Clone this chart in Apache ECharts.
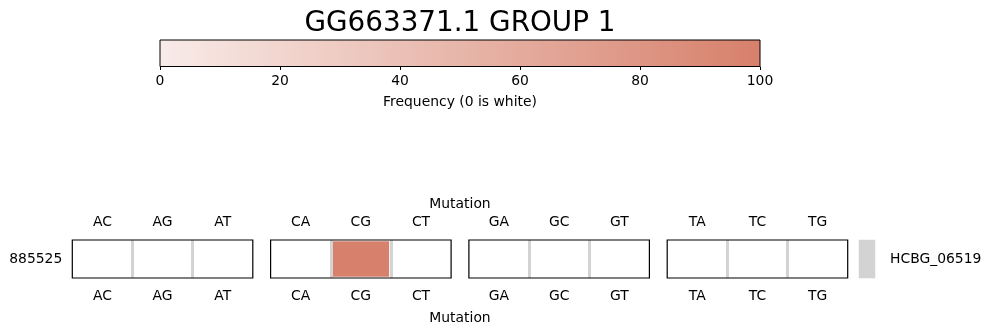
<!DOCTYPE html>
<html>
<head>
<meta charset="utf-8">
<script src="https://cdn.jsdelivr.net/npm/echarts@6/dist/echarts.min.js"></script>
<style>
html, body { margin: 0; padding: 0; background: #fff; }
#chart { width: 990px; height: 335px; }
</style>
</head>
<body>
<div id="chart"></div>
<script>
// ---- data ----
const chartTitle = 'GG663371.1 GROUP 1';
const mutationGroups = [
  ['AC', 'AG', 'AT'],
  ['CA', 'CG', 'CT'],
  ['GA', 'GC', 'GT'],
  ['TA', 'TC', 'TG']
];
const positions = ['885525'];
// frequency per group, per mutation (row 885525)
const frequencies = [
  [0, 0, 0],
  [0, 100, 0],
  [0, 0, 0],
  [0, 0, 0]
];
const geneLabels = ['HCBG_06519'];
const colorbarMin = 0;
const colorbarMax = 100;
const colorbarInterval = 20;
const colorbarLabel = 'Frequency (0 is white)';
const axisName = 'Mutation';

// ---- styles ----
const FONT = 'DejaVu Sans';
const LOW = '#f8ebe8';
const HIGH = '#d7806b';
const GREY = '#d3d3d3';
const FS = 13.9;

const grids = [];
const xAxes = [];
const yAxes = [];
const series = [];

// colorbar grid
grids.push({
  left: 160, top: 40, width: 600, height: 26.5, show: true, z: 6,
  backgroundColor: { type: 'linear', x: 0, y: 0, x2: 1, y2: 0,
    colorStops: [{ offset: 0, color: LOW }, { offset: 1, color: HIGH }] },
  borderColor: '#000', borderWidth: 1
});
xAxes.push({
  type: 'value', gridIndex: 0, min: colorbarMin, max: colorbarMax, interval: colorbarInterval,
  position: 'bottom',
  axisLine: { show: false },
  axisTick: { show: true, length: 3.5, lineStyle: { color: '#000', width: 1 } },
  axisLabel: { margin: 7.5, color: '#000', fontSize: FS, fontFamily: FONT },
  splitLine: { show: false },
  name: colorbarLabel, nameLocation: 'middle', nameGap: 28.5,
  nameTextStyle: { color: '#000', fontSize: FS, fontFamily: FONT }
});
yAxes.push({ type: 'value', gridIndex: 0, show: false, min: 0, max: 1 });

const panelLeft0 = 72.3, panelStep = 198.3, panelW = 180.5, panelTop = 240, panelH = 38;
const panelSeries = [];

mutationGroups.forEach(function (group, k) {
  const gi = grids.length;
  grids.push({
    left: panelLeft0 + k * panelStep, top: panelTop, width: panelW, height: panelH,
    show: true, z: 6, backgroundColor: 'transparent', borderColor: '#000', borderWidth: 1.2
  });
  const xTop = xAxes.length;
  xAxes.push({
    type: 'category', gridIndex: gi, data: group, position: 'top', z: 5,
    axisLine: { show: false }, axisTick: { show: false },
    axisLabel: { margin: 10.5, color: '#000', fontSize: FS, fontFamily: FONT },
    splitLine: { show: true, showMinLine: false, showMaxLine: false,
      lineStyle: { color: GREY, width: 3 } }
  });
  xAxes.push({
    type: 'category', gridIndex: gi, data: group, position: 'bottom',
    axisLine: { show: false }, axisTick: { show: false },
    axisLabel: { margin: 11.5, color: '#000', fontSize: FS, fontFamily: FONT },
    splitLine: { show: false }
  });
  const yi = yAxes.length;
  yAxes.push({
    type: 'category', gridIndex: gi, data: positions,
    axisLine: { show: false }, axisTick: { show: false },
    axisLabel: { show: k === 0, margin: 10, color: '#000', fontSize: FS, fontFamily: FONT },
    splitLine: { show: false }
  });
  panelSeries.push(series.length);
  const data = [];
  positions.forEach(function (p, r) {
    group.forEach(function (m, c) {
      data.push([c, r, frequencies[k][c]]);
    });
  });
  series.push({
    type: 'heatmap', xAxisIndex: xTop, yAxisIndex: yi, data: data,
    itemStyle: { borderColor: '#fff', borderWidth: 3 },
    emphasis: { disabled: true }
  });
});

// gene annotation column
const gg = grids.length;
grids.push({ left: 859, top: panelTop, width: 16, height: panelH, show: false });
const gx = xAxes.length;
xAxes.push({ type: 'category', gridIndex: gg, data: [''], show: false });
const gy = yAxes.length;
yAxes.push({
  type: 'category', gridIndex: gg, data: geneLabels, position: 'right',
  axisLine: { show: false }, axisTick: { show: false },
  axisLabel: { margin: 15, color: '#000', fontSize: FS, fontFamily: FONT },
  splitLine: { show: false }
});
series.push({
  type: 'heatmap', xAxisIndex: gx, yAxisIndex: gy,
  data: geneLabels.map(function (g, i) { return { value: [0, i, 1], itemStyle: { color: GREY } }; }),
  emphasis: { disabled: true }
});

const option = {
  animation: false,
  backgroundColor: '#fff',
  textStyle: { fontFamily: FONT },
  title: [
    { text: chartTitle, left: 460, textAlign: 'center', top: 10, padding: 0,
      textStyle: { fontSize: 27.8, fontWeight: 'normal', color: '#000', fontFamily: FONT } },
    { text: axisName, left: 460, textAlign: 'center', top: 197, padding: 0,
      textStyle: { fontSize: FS, fontWeight: 'normal', color: '#000', fontFamily: FONT } },
    { text: axisName, left: 460, textAlign: 'center', top: 311, padding: 0,
      textStyle: { fontSize: FS, fontWeight: 'normal', color: '#000', fontFamily: FONT } }
  ],
  visualMap: {
    type: 'continuous', show: false, min: colorbarMin, max: colorbarMax,
    range: [0.5, colorbarMax], seriesIndex: panelSeries,
    inRange: { color: [LOW, HIGH] }, outOfRange: { color: '#ffffff' }
  },
  grid: grids,
  xAxis: xAxes,
  yAxis: yAxes,
  series: series
};

const chart = echarts.init(document.getElementById('chart'), null, { renderer: 'canvas' });
chart.setOption(option);
</script>
</body>
</html>
